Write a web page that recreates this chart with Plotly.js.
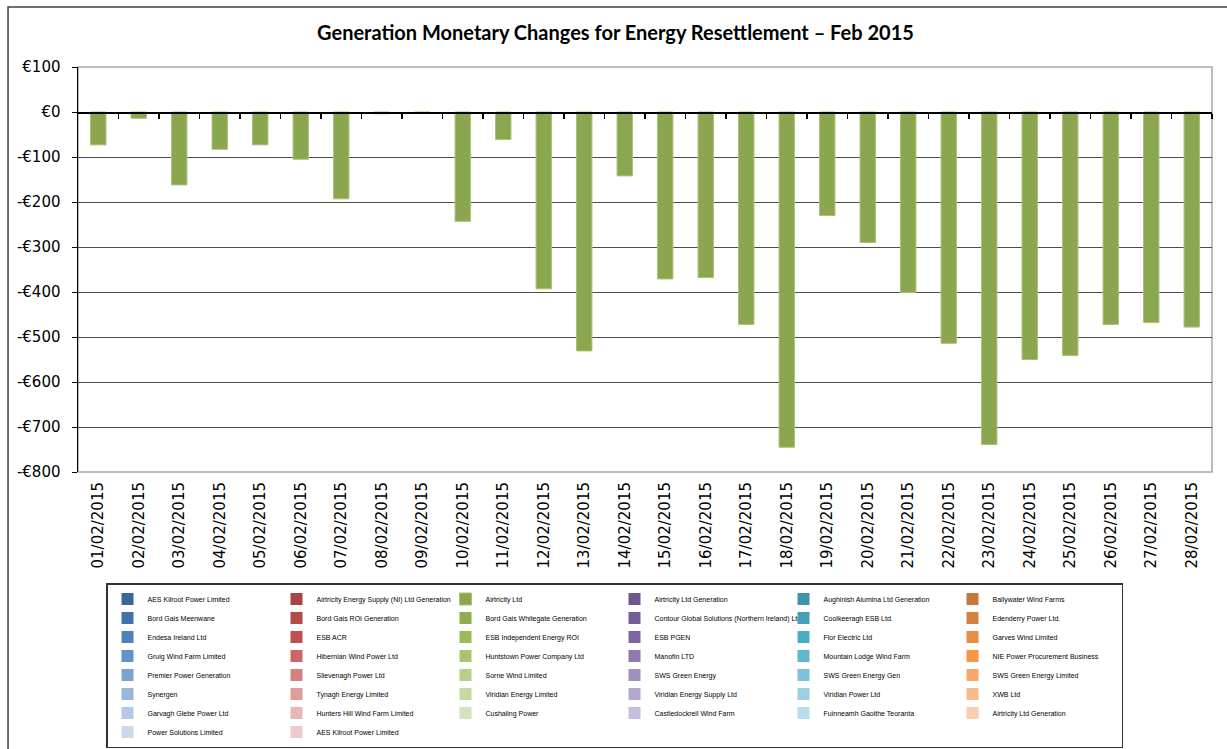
<!DOCTYPE html>
<html>
<head>
<meta charset="utf-8">
<script src="https://cdn.plot.ly/plotly-3.0.1.min.js"></script>
<style>
  html, body { margin: 0; padding: 0; background: #fff; }
  #chart { width: 1227px; height: 749px; }
</style>
</head>
<body>
<div id="chart"></div>
<script>
const days = ['01/02/2015', '02/02/2015', '03/02/2015', '04/02/2015', '05/02/2015', '06/02/2015', '07/02/2015',
  '08/02/2015', '09/02/2015', '10/02/2015', '11/02/2015', '12/02/2015', '13/02/2015', '14/02/2015',
  '15/02/2015', '16/02/2015', '17/02/2015', '18/02/2015', '19/02/2015', '20/02/2015', '21/02/2015',
  '22/02/2015', '23/02/2015', '24/02/2015', '25/02/2015', '26/02/2015', '27/02/2015', '28/02/2015'];

// monetary change per day (EUR)
const changes = [-73, -14, -162, -83, -73, -105, -193, -4, -3, -243, -61, -393, -531, -142,
  -371, -368, -472, -745, -230, -290, -401, -514, -739, -550, -541, -472, -468, -478];

// the series that carries the values above
const mainSeries = 'Airtricity Ltd';

const participants = [
  'AES Kilroot Power Limited', 'Airtricity Energy Supply (NI) Ltd Generation', 'Airtricity Ltd', 'Airtricity Ltd Generation', 'Aughinish Alumina Ltd Generation', 'Ballywater Wind Farms',
  'Bord Gais Meenwane', 'Bord Gais ROI Generation', 'Bord Gais Whitegate Generation', 'Contour Global Solutions (Northern Ireland) Ltd', 'Coolkeeragh ESB Ltd.', 'Edenderry Power Ltd.',
  'Endesa Ireland Ltd', 'ESB ACR', 'ESB Independent Energy ROI', 'ESB PGEN', 'Flor Electric Ltd', 'Garves Wind Limited',
  'Gruig Wind Farm Limited', 'Hibernian Wind Power Ltd', 'Huntstown Power Company Ltd', 'Manofin LTD', 'Mountain Lodge Wind Farm', 'NIE Power Procurement Business',
  'Premier Power Generation', 'Slievenagh Power Ltd', 'Sorne Wind Limited', 'SWS Green Energy', 'SWS Green Energy Gen', 'SWS Green Energy Limited',
  'Synergen', 'Tynagh Energy Limited', 'Viridian Energy Limited', 'Viridian Energy Supply Ltd', 'Viridian Power Ltd', 'XWB Ltd',
  'Garvagh Glebe Power Ltd', 'Hunters Hill Wind Farm Limited', 'Cushaling Power', 'Castledockrell Wind Farm', 'Fuinneamh Gaoithe Teoranta', 'Airtricity Ltd Generation',
  'Power Solutions Limited', 'AES Kilroot Power Limited'
];

const swatches = [
  '#3d659c', '#a94542', '#8aa64f', '#6d568c', '#3f93aa', '#c6773a',
  '#4270aa', '#b34a47', '#8fae52', '#755d97', '#44a0b8', '#d5813f',
  '#4f81bd', '#c0504d', '#9bbb59', '#8064a2', '#4bacc6', '#e88c45',
  '#6590c8', '#ca6764', '#a8c470', '#9079b1', '#62b7cf', '#f79646',
  '#7ea1d0', '#d3817f', '#b7cf89', '#a18fbe', '#7cc3d7', '#f8a76b',
  '#9bb5db', '#dc9d9b', '#c6d9a3', '#b5a7cc', '#9bd0df', '#f9bb8e',
  '#b6c8e4', '#e5b8b6', '#d5e3bd', '#c8bdda', '#b7dde8', '#fbcdaf',
  '#ccd8ec', '#ecccca'
];

const yTicks = [100, 0, -100, -200, -300, -400, -500, -600, -700, -800];
const yTickText = yTicks.map(v => (v < 0 ? '-€' : '€') + Math.abs(v));
const yMin = -800, yMax = 100;
const xRange = [-0.5, days.length - 0.5];
// tick marks between neighbouring days, like the Excel category axis
const dayBoundaries = days.map((d, i) => i + 0.5);

// main series on the category axis; the others only fill the legend and
// hang on x2, a plain axis drawn at zero with a tick between each day
const traces = participants.map((name, i) => {
  const isMain = name === mainSeries;
  return {
    type: 'bar',
    name: name,
    x: days,
    y: isMain ? changes : days.map(() => null),
    xaxis: isMain ? 'x' : 'x2',
    yaxis: 'y',
    marker: {color: swatches[i], line: {color: isMain ? '#a9c177' : swatches[i], width: isMain ? 1 : 0}},
    hoverinfo: isMain ? 'x+y' : 'skip'
  };
});

const layout = {
  width: 1227,
  height: 749,
  paper_bgcolor: '#ffffff',
  plot_bgcolor: '#ffffff',
  margin: {l: 78, r: 15, t: 67, b: 277},
  title: {
    text: '<b>Generation Monetary Changes for Energy Resettlement – Feb 2015</b>',
    font: {family: 'Lato, Open Sans, sans-serif', size: 20, color: '#000'},
    x: 0.5016, xanchor: 'center', xref: 'container',
    y: 0.956, yanchor: 'middle'
  },
  barmode: 'relative',
  bargap: 0.62,
  showlegend: true,
  legend: {
    orientation: 'h',
    xref: 'container', yref: 'container',
    x: 0.0864, xanchor: 'left',
    y: 0.2216, yanchor: 'top',
    entrywidth: 124, entrywidthmode: 'pixels',
    bordercolor: '#333', borderwidth: 1.5,
    bgcolor: '#fff',
    traceorder: 'normal',
    font: {family: 'Liberation Sans, Arial, sans-serif', size: 7, color: '#000'}
  },
  xaxis: {
    type: 'category',
    categoryarray: days,
    range: xRange,
    tickangle: -90,
    ticks: '',
    ticklabelstandoff: 6,
    showgrid: false,
    showline: false,
    zeroline: false,
    automargin: false,
    tickfont: {family: 'DejaVu Sans, sans-serif', size: 15, color: '#000'}
  },
  xaxis2: {
    type: 'linear',
    range: xRange,
    overlaying: 'x',
    anchor: 'free',
    side: 'bottom',
    position: (0 - yMin) / (yMax - yMin),
    automargin: false,
    showline: true, linecolor: '#000', linewidth: 1.5,
    tickmode: 'array', tickvals: dayBoundaries, ticktext: dayBoundaries.map(() => ''),
    ticks: 'outside', ticklen: 5, tickcolor: '#000', tickwidth: 1.5,
    showticklabels: true,
    showgrid: false,
    zeroline: false
  },
  yaxis: {
    range: [yMin, yMax],
    tickvals: yTicks,
    ticktext: yTickText,
    showgrid: true, gridcolor: '#4d4d4d', gridwidth: 1,
    zeroline: false,
    showline: true, linecolor: '#000', linewidth: 1.5,
    ticks: 'outside', ticklen: 5, tickcolor: '#000',
    ticklabelstandoff: 8,
    automargin: false,
    tickfont: {family: 'DejaVu Sans, sans-serif', size: 15, color: '#000'}
  },
  shapes: [
    // plot area frame
    {type: 'rect', xref: 'paper', yref: 'paper', x0: 0, x1: 1, y0: 0, y1: 1,
      line: {color: '#a6a6a6', width: 1.5}, layer: 'below'},
    // chart area frame
    {type: 'rect', xref: 'paper', yref: 'paper', x0: -0.0617, x1: 1.3, y0: -1.2, y1: 1.148,
      line: {color: '#404040', width: 1.5}, layer: 'below'}
  ]
};

Plotly.newPlot('chart', traces, layout, {displayModeBar: false, staticPlot: true});
</script>
</body>
</html>
